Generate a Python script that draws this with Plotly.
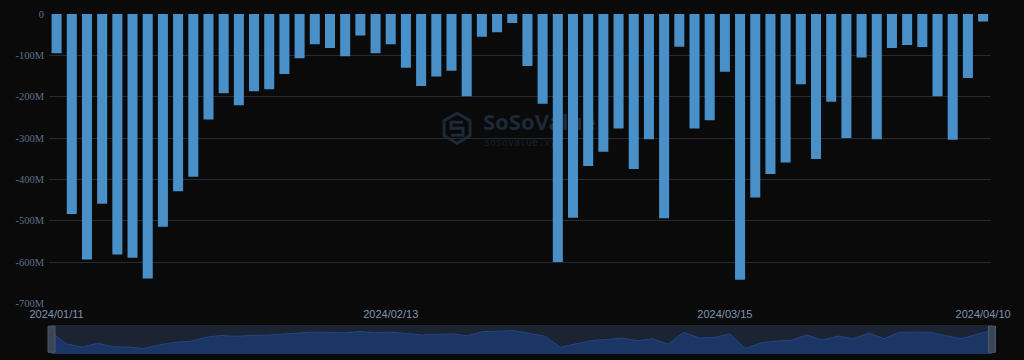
import plotly.graph_objects as go

# ---------------- data ----------------
dates = [
    "2024/01/11", "2024/01/12", "2024/01/16", "2024/01/17", "2024/01/18", "2024/01/19",
    "2024/01/22", "2024/01/23", "2024/01/24", "2024/01/25", "2024/01/26",
    "2024/01/29", "2024/01/30", "2024/01/31", "2024/02/01", "2024/02/02",
    "2024/02/05", "2024/02/06", "2024/02/07", "2024/02/08", "2024/02/09",
    "2024/02/12", "2024/02/13", "2024/02/14", "2024/02/15", "2024/02/16",
    "2024/02/20", "2024/02/21", "2024/02/22", "2024/02/23",
    "2024/02/26", "2024/02/27", "2024/02/28", "2024/02/29", "2024/03/01",
    "2024/03/04", "2024/03/05", "2024/03/06", "2024/03/07", "2024/03/08",
    "2024/03/11", "2024/03/12", "2024/03/13", "2024/03/14", "2024/03/15",
    "2024/03/18", "2024/03/19", "2024/03/20", "2024/03/21", "2024/03/22",
    "2024/03/25", "2024/03/26", "2024/03/27", "2024/03/28",
    "2024/04/01", "2024/04/02", "2024/04/03", "2024/04/04", "2024/04/05",
    "2024/04/08", "2024/04/09", "2024/04/10",
]

# daily net flow, USD millions
net_flow_m = [
    -95, -484, -594, -459, -582, -590,
    -640, -515, -429, -394, -255,
    -192, -221, -187, -182, -145,
    -107, -73, -82, -102, -52,
    -95, -73, -130, -174, -151,
    -137, -199, -55, -44,
    -22, -126, -217, -600, -493,
    -368, -333, -277, -375, -303,
    -494, -79, -277, -257, -140,
    -643, -444, -387, -359, -170,
    -351, -212, -300, -105,
    -303, -82, -75, -80, -199,
    -304, -155, -18,
]

x_tick_labels = ["2024/01/11", "2024/02/13", "2024/03/15", "2024/04/10"]
y_tick_vals = [0, -100, -200, -300, -400, -500, -600, -700]
y_tick_text = ["0", "-100M", "-200M", "-300M", "-400M", "-500M", "-600M", "-700M"]

# ---------------- styling ----------------
BG = "#0a0a0b"
BAR = "#4a90c8"
GRID = "#262a31"
YTXT = "#5f708a"
XTXT = "#7f93ab"
SLIDER_BG = "#1c2333"
SLIDER_FILL = "#1b3564"
SLIDER_LINE = "#22467f"
WM = "#1d2839"

n = len(dates)
lo_v, hi_v = min(net_flow_m), max(net_flow_m)
pad = (hi_v - lo_v) * 0.3
sl_lo, sl_hi = lo_v - pad, hi_v + pad

fig = go.Figure()

fig.add_trace(go.Bar(
    x=dates, y=net_flow_m, xaxis="x", yaxis="y",
    marker=dict(color=BAR, line=dict(width=0)),
    showlegend=False,
    hovertemplate="%{x}<br>%{y}M<extra></extra>",
))

# slider shadow (baseline + filled area)
fig.add_trace(go.Scatter(
    x=dates, y=[sl_lo] * n, xaxis="x2", yaxis="y2",
    mode="lines", line=dict(width=0, color=SLIDER_FILL),
    showlegend=False, hoverinfo="skip",
))
fig.add_trace(go.Scatter(
    x=dates, y=net_flow_m, xaxis="x2", yaxis="y2",
    mode="lines", fill="tonexty", fillcolor=SLIDER_FILL,
    line=dict(width=1, color=SLIDER_LINE),
    showlegend=False, hoverinfo="skip",
))

shapes = [
    # slider background
    dict(type="rect", xref="x2 domain", yref="y2 domain", x0=0, x1=1, y0=0, y1=1,
         fillcolor=SLIDER_BG, line=dict(width=0), layer="below"),
    # handles
    dict(type="rect", xref="x2 domain", yref="y2 domain", xsizemode="pixel",
         xanchor=0, x0=-3.5, x1=3.5, y0=0.06, y1=0.96,
         fillcolor="#3a4556", line=dict(color="#4d596c", width=1), layer="above"),
    dict(type="rect", xref="x2 domain", yref="y2 domain", xsizemode="pixel",
         xanchor=1, x0=-3.5, x1=3.5, y0=0.06, y1=0.96,
         fillcolor="#3a4556", line=dict(color="#4d596c", width=1), layer="above"),
    # watermark logo
    dict(type="path", xref="paper", yref="paper", xsizemode="pixel", ysizemode="pixel",
         xanchor=0.4327, yanchor=0.664,
         path="M0,15 L13,7.5 L13,-7.5 L0,-15 L-13,-7.5 L-13,7.5 Z",
         line=dict(color=WM, width=3), fillcolor="rgba(0,0,0,0)", layer="below"),
    dict(type="path", xref="paper", yref="paper", xsizemode="pixel", ysizemode="pixel",
         xanchor=0.4327, yanchor=0.664,
         path="M6,6 L-6,6 L-6,0 L6,0 L6,-7 L-6,-7",
         line=dict(color=WM, width=3), fillcolor="rgba(0,0,0,0)", layer="below"),
    # watermark texts
    dict(type="rect", xref="paper", yref="paper", x0=0.457, x1=0.62, y0=0.655, y1=0.705,
         line=dict(width=0), fillcolor="rgba(0,0,0,0)", layer="below",
         label=dict(text="<b>SoSoValue</b>", textposition="middle left", padding=0,
                    font=dict(family="Noto Sans", size=22, color=WM))),
    dict(type="rect", xref="paper", yref="paper", x0=0.458, x1=0.62, y0=0.613, y1=0.638,
         line=dict(width=0), fillcolor="rgba(0,0,0,0)", layer="below",
         label=dict(text="sosovalue.xyz", textposition="middle left", padding=0,
                    font=dict(family="DejaVu Sans Mono", size=10, color="#181f2b"))),
]

fig.update_layout(
    width=1024, height=360,
    margin=dict(l=49, r=32, t=14, b=6, autoexpand=False),
    paper_bgcolor=BG, plot_bgcolor=BG,
    bargap=0.34,
    showlegend=False,
    shapes=shapes,
    xaxis=dict(
        domain=[0, 0.9986], anchor="y", type="category",
        categoryorder="array", categoryarray=dates,
        range=[-0.5, n - 0.5],
        tickvals=x_tick_labels, ticktext=x_tick_labels,
        showgrid=False, showline=False, zeroline=False, ticks="",
        tickfont=dict(family="Liberation Sans", size=11, color=XTXT),
        ticklabelstandoff=3, automargin=False,
    ),
    yaxis=dict(
        domain=[0.149, 1], anchor="x",
        range=[-700, 0],
        tickvals=y_tick_vals, ticktext=y_tick_text,
        showgrid=True, gridcolor=GRID, gridwidth=1,
        zeroline=False, showline=False, ticks="",
        tickfont=dict(family="Liberation Serif", size=10.5, color=YTXT),
        ticklabelstandoff=4, automargin=False,
    ),
    xaxis2=dict(
        domain=[0.00265, 1], anchor="y2", type="category",
        categoryorder="array", categoryarray=dates,
        range=[0, n - 1], visible=False, automargin=False,
    ),
    yaxis2=dict(
        domain=[0, 0.0853], anchor="x2",
        range=[sl_lo, sl_hi], visible=False, automargin=False,
    ),
)

fig.write_html("out.html")
